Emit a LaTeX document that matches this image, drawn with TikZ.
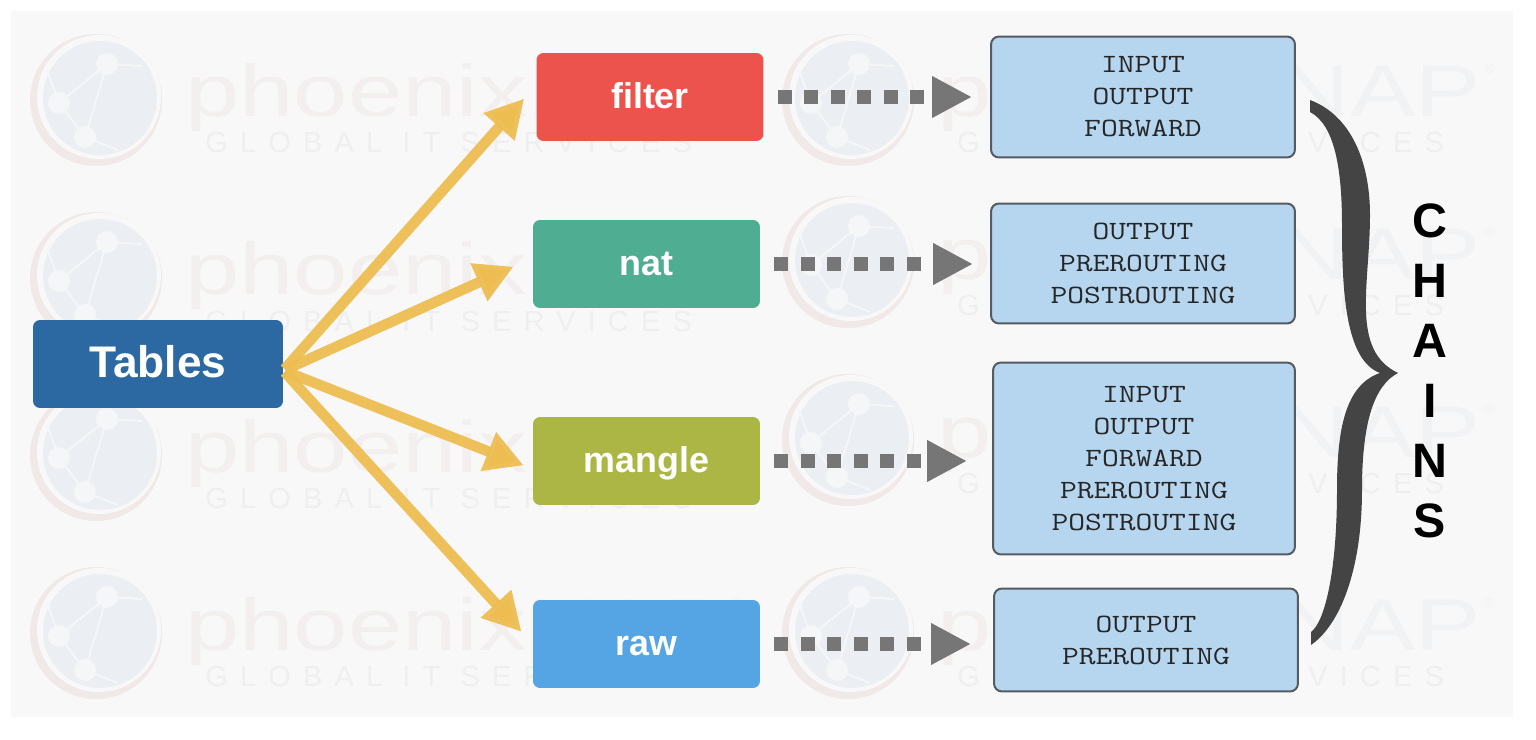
\documentclass[tikz,border=0pt]{standalone}
\usepackage{fontspec}
\setmainfont{Liberation Sans}
\newfontfamily\chainfont{Latin Modern Mono}[FakeStretch=1.237]
\usepackage{tikz}
\usetikzlibrary{arrows.meta}
\definecolor{wmred}{HTML}{F3EFEF}
\definecolor{wmblue}{HTML}{F0F2F4}
\definecolor{wmglobe}{HTML}{EBEEF2}
\definecolor{wmring}{HTML}{F1E8E8}
\definecolor{wmline}{HTML}{F5F6F7}
\definecolor{wmgrey}{HTML}{EFEFEF}
\definecolor{panel}{HTML}{F8F8F8}
\definecolor{chainfill}{HTML}{B6D6F0}
\definecolor{chainline}{HTML}{555B62}
\definecolor{feedyellow}{HTML}{EEBD52}
\definecolor{flowgrey}{HTML}{767676}
\definecolor{bracegrey}{HTML}{444444}

\begin{document}
\begin{tikzpicture}[
		x=0.02cm,y=-0.02cm,
		tablebox/.style={rectangle,rounded corners=0.14cm,text=white,minimum width=4.54cm,minimum height=1.76cm,inner sep=0pt,text height=14pt,text depth=0.4pt,font=\bfseries\fontsize{20.4}{24}\selectfont},
		chainbox/.style={rectangle,rounded corners=0.16cm,draw=chainline,line width=0.04cm,fill=chainfill,minimum width=6.08cm,inner sep=0pt,align=center,text=black!85,font=\chainfont\fontsize{15}{18.2}\selectfont},
		feed/.style={draw=feedyellow,draw opacity=0.95,line width=0.21cm,shorten <=2*0.02cm,-{Triangle[length=0.76cm,width=0.78cm,fill=feedyellow]}},
		flow/.style={draw=flowgrey,line width=0.28cm,dash pattern=on 0.28cm off 0.25cm,-{Triangle[length=0.8cm,width=0.78cm,fill=flowgrey]},shorten <=14*0.02cm},
		brand/.style={anchor=base west,inner sep=0pt}]
		
		\useasboundingbox (0,0) rectangle (1536,740);
		\fill[white] (0,0) rectangle (1536,740);
		\fill[panel] (11,11) rectangle (1513,717);
		
		\foreach \wx/\wy in {0/100,0/278,0/455,0/633,752/100,752/262,752/440,752/633} {
			\begin{scope}[shift={(\wx,\wy)}]
				\fill[wmring] (96,0) circle [radius=66];
				\fill[panel] (99,-3) circle [radius=62];
				\fill[wmglobe] (100,-2) circle [radius=57];
				\draw[wmline,line width=0.04cm] (107,-36) -- (59,3) -- (85,37) (107,-36) -- (85,37) (107,-36) -- (142,-34) (59,3) -- (47,-30) (85,37) -- (118,50);
				\fill[wmline] (107,-36) circle [radius=11] (59,3) circle [radius=11] (85,37) circle [radius=11];
				\node[brand,yscale=0.75,font=\fontsize{55.6}{60}\selectfont] (word\wx\wy) at (185,17) {\textcolor{wmred}{phoenix}\textcolor{wmblue}{NAP}};
				\node[brand,text=wmblue,font=\fontsize{8}{8}\selectfont] (reg\wx\wy) at (732,-26) {®};
				\node[brand,text=wmgrey,font=\fontsize{16.5}{20}\selectfont\addfontfeature{LetterSpace=42}] (tag\wx\wy) at (205,53) {GLOBAL IT SERVICES};
			\end{scope}
		}
		
		\node[tablebox,fill={rgb,255:red,44;green,105;blue,163},minimum width=5cm,text height=16pt,font=\bfseries\fontsize{25.2}{30}\selectfont] (tables) at (158,364) {Tables};
		\node[tablebox,fill={rgb,255:red,236;green,83;blue,76}] (filter) at (650,97) {filter};
		\node[tablebox,fill={rgb,255:red,79;green,173;blue,146}] (nat) at (646.5,264) {nat};
		\node[tablebox,fill={rgb,255:red,172;green,182;blue,68}] (mangle) at (646.5,461) {mangle};
		\node[tablebox,fill={rgb,255:red,85;green,164;blue,227}] (raw) at (646.5,644) {raw};
		
		\node[chainbox,minimum height=2.42cm] (filterchains) at (1143,97) {INPUT\\OUTPUT\\FORWARD};
		\node[chainbox,minimum height=2.40cm] (natchains) at (1143,263.5) {OUTPUT\\PREROUTING\\POSTROUTING};
		\node[chainbox,minimum width=6.04cm,minimum height=3.84cm] (manglechains) at (1144,458.5) {INPUT\\OUTPUT\\FORWARD\\PREROUTING\\POSTROUTING};
		\node[chainbox,minimum height=2.06cm] (rawchains) at (1146,640) {OUTPUT\\PREROUTING};
		
		\draw[feed,shorten >=18*0.02cm] (tables.-3) -- (filter.174);
		\draw[feed,shorten >=21*0.02cm] (tables.-3) -- (nat.177);
		\draw[feed,shorten >=9.6*0.02cm] (tables.-3) -- (mangle.184);
		\draw[feed,shorten >=16.5*0.02cm] (tables.-3) -- (raw.west);
		
		\draw[flow,shorten >=18*0.02cm] (filter.east) -- (filter.east -| filterchains.west);
		\draw[flow,shorten >=17*0.02cm] (nat.east) -- (nat.east -| natchains.west);
		\draw[flow,shorten >=25*0.02cm] (mangle.east) -- (mangle.east -| manglechains.west);
		\draw[flow,shorten >=22*0.02cm] (raw.east) -- (raw.east -| rawchains.west);
		
		\fill[bracegrey] (1310,100) .. controls (1350,115) and (1370,160) .. (1370,215)
			.. controls (1370,285) and (1350,350) .. (1398,373)
			.. controls (1375,385) and (1362,420) .. (1362,490)
			.. controls (1362,570) and (1340,625) .. (1311,645)
			-- (1311,632) .. controls (1325,622) and (1337,570) .. (1337,490)
			.. controls (1337,430) and (1345,385) .. (1380,373)
			.. controls (1345,360) and (1342,290) .. (1342,225)
			.. controls (1342,170) and (1335,125) .. (1310,112) -- cycle;
		
		\node[align=center,inner sep=0pt,font=\bfseries\fontsize{27.5}{34.2}\selectfont] (chains) at (1430,371) {C\\H\\A\\I\\N\\S};
		
\end{tikzpicture}
\end{document}
